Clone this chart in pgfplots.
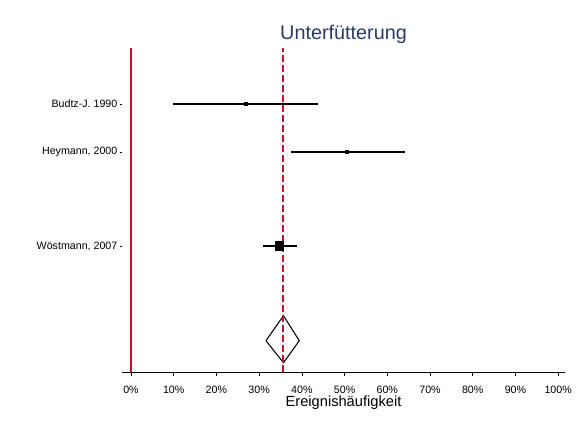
\documentclass[border=0pt]{standalone}
\usepackage{fontspec}
\setmainfont{Liberation Sans}
\usepackage{pgfplots}
\pgfplotsset{compat=1.18}
\definecolor{redl}{HTML}{C8102E}
\definecolor{navy}{HTML}{2B3A67}
\begin{document}
\begin{tikzpicture}
\path[use as bounding box] (-91.5pt,-39.75pt) rectangle (341.25pt,279pt);
\begin{axis}[
  scale only axis, width=332.25pt, height=243pt,
  at={(0,0)}, anchor=south west,
  xmin=-2.1, xmax=101.6, ymin=0, ymax=324,
  axis x line*=bottom, axis y line*=left,
  y axis line style={draw=none},
  x axis line style={line width=0.7pt, -},
  tick align=outside,
  xtick={0,10,20,30,40,50,60,70,80,90,100},
  xticklabels={0\%,10\%,20\%,30\%,40\%,50\%,60\%,70\%,80\%,90\%,100\%},
  ytick={126,220,268},
  yticklabels={{Wöstmann, 2007},{Heymann, 2000},{Budtz-J. 1990}},
  xtick style={black, line width=0.5pt, /pgfplots/major tick length=3pt},
  ytick style={black, line width=0.5pt, /pgfplots/major tick length=1.5pt},
  ticklabel style={font=\fontsize{8}{9.6}\selectfont},
  xticklabel style={yshift=-3pt},
  yticklabel style={inner sep=0pt, xshift=1pt},
  /pgf/number format/assume math mode=true,
  clip=false,
]
\addplot[color=redl, solid, line width=0.8pt] table {
x y
0 0
0 324
};
% CIs
\addplot[black, line width=0.85pt] coordinates {(9.8,268) (43.8,268)};
\addplot[black, line width=0.85pt] coordinates {(37.5,220) (64.2,220)};
\addplot[black, line width=0.85pt] coordinates {(30.9,126) (38.9,126)};
% point estimates
\addplot[only marks, mark=square*, mark size=1.1pt, black] coordinates {(26.9,268) (50.6,220)};
\addplot[only marks, mark=square*, mark size=3.2pt, black] coordinates {(34.7,126)};
% pooled diamond
\addplot[black, line width=0.8pt, line join=miter] coordinates {(31.6,31.3) (35.7,56.3) (39.4,31.3) (35.7,9.3) (31.6,31.3)};
% pooled estimate reference line (dashed)
\addplot[color=redl, line width=1pt, dash pattern=on 5.25pt off 2.25pt] table {
x y
35.6 0
35.6 324
};
\node[anchor=base, font=\fontsize{14.85}{18}\selectfont, text=navy] at (rel axis cs:0.5,1) [yshift=6pt] {Unterfütterung};
\node[anchor=base, font=\fontsize{11}{13}\selectfont] at (rel axis cs:0.5,0) [yshift=-26pt] {Ereignishäufigkeit};
\end{axis}
\end{tikzpicture}
\end{document}
